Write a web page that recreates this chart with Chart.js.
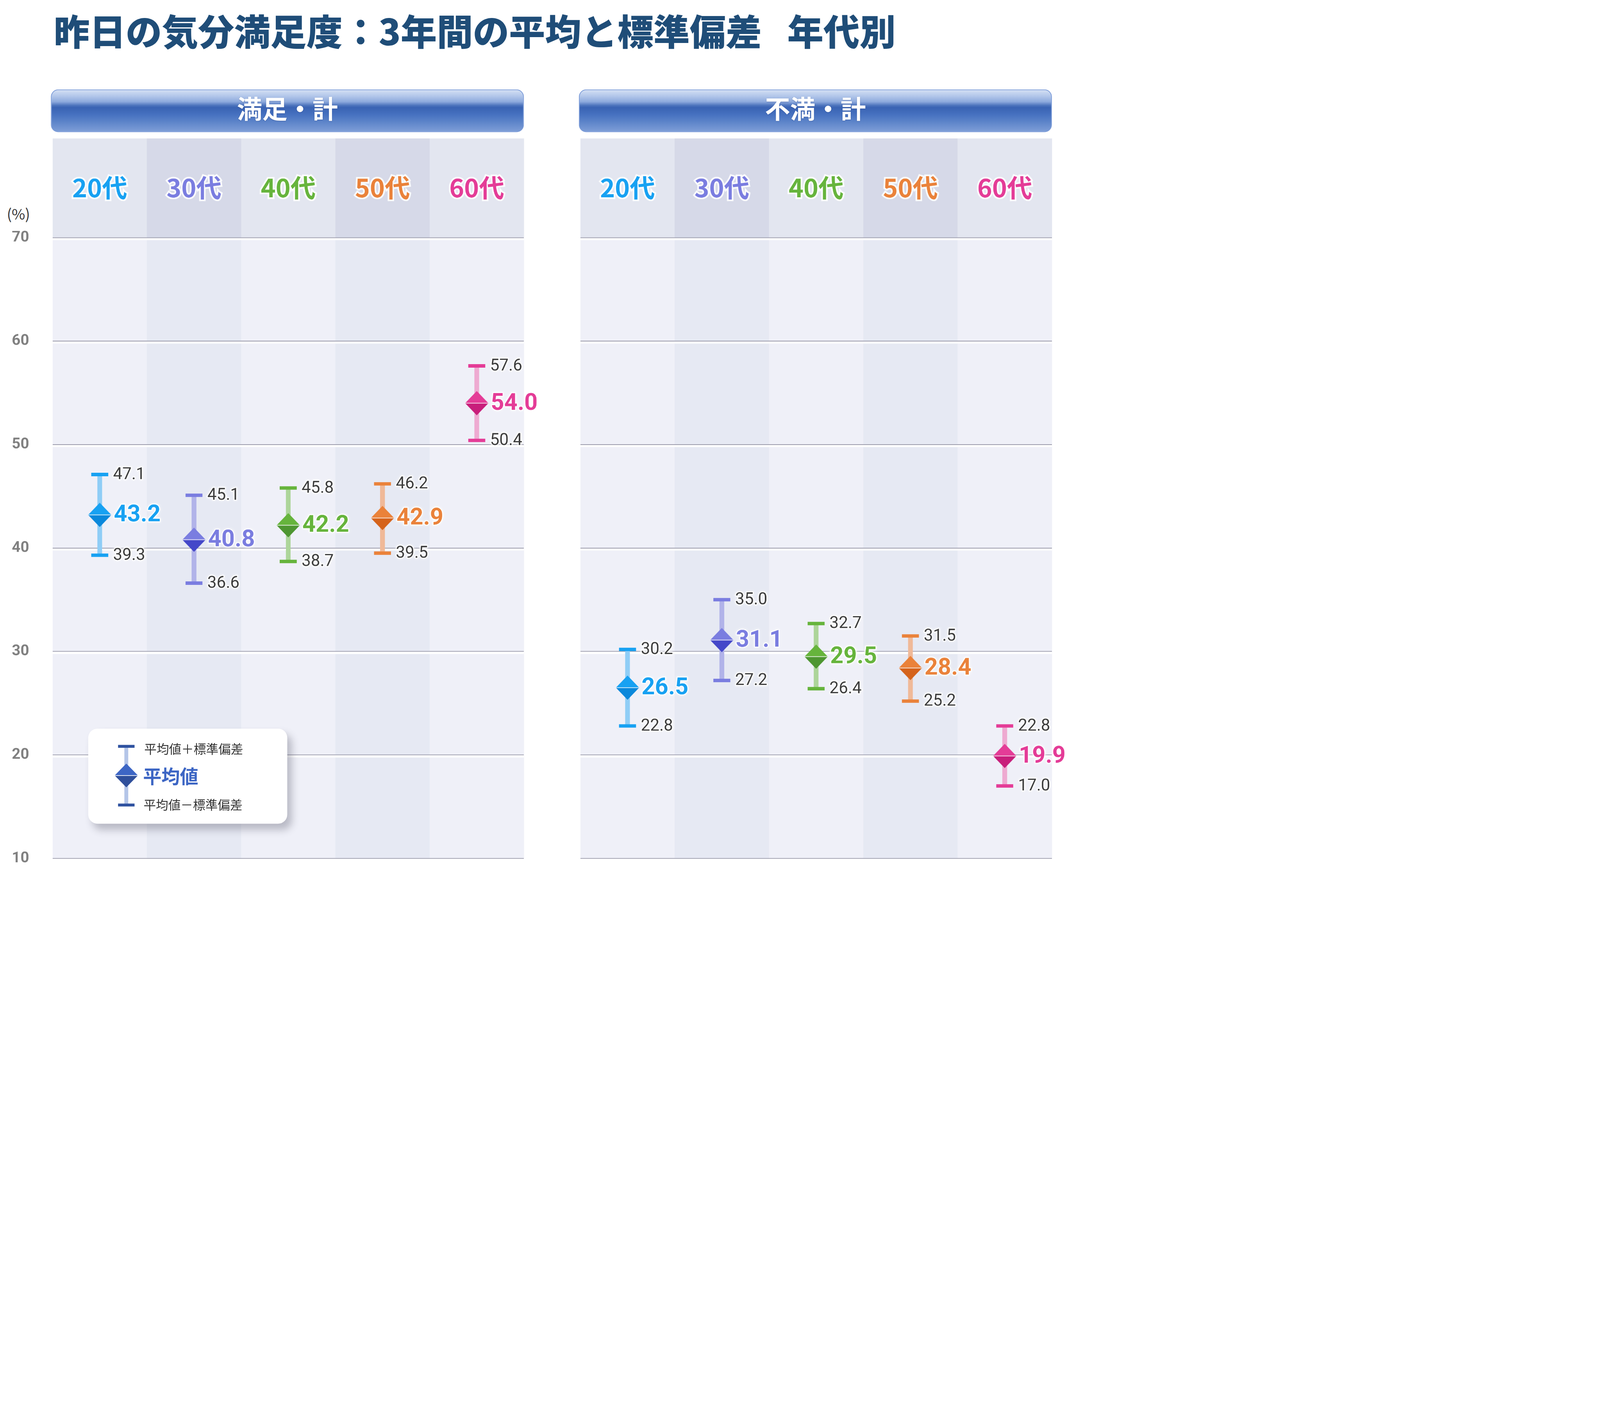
<!DOCTYPE html>
<html><head><meta charset="utf-8">
<script src="https://cdn.jsdelivr.net/npm/chart.js@4.4.1/dist/chart.umd.min.js"></script>
<style>
html,body{margin:0;padding:0;background:#fff;overflow:hidden;}
#wrap{position:relative;overflow:hidden;background:#fff;}
#stage{position:absolute;left:0;top:0;width:6600px;height:3637px;overflow:hidden;background:#fff;font-family:"Noto Sans CJK JP",sans-serif;transform-origin:0 0;}
.abs{position:absolute;}
#title{left:221px;top:48px;font-size:149px;font-weight:900;color:#1f4d78;white-space:nowrap;line-height:1;}
.hdr{top:369px;height:176px;width:1951px;border:3px solid #7b9bd8;border-radius:30px;box-sizing:border-box;padding-bottom:28px;
 background:linear-gradient(to bottom,#d2def3 0%,#b3c7ea 14%,#8eaadd 28%,#4d74bd 37%,#3a63b3 42%,#4570bf 58%,#5a82c8 75%,#7d9dd7 100%);
 color:#fff;font-weight:700;font-size:104px;display:flex;align-items:center;justify-content:center;line-height:1;text-shadow:0 2px 4px rgba(30,50,110,0.35);}
canvas{position:absolute;}
#pct{left:28px;top:846px;font-size:60px;color:#333;line-height:66px;}
#legend{left:364px;top:3005px;width:821px;height:392px;border-radius:38px;background:#fff;box-shadow:18px 24px 30px rgba(70,70,90,0.32);z-index:5;}
.lt{position:absolute;white-space:nowrap;}
</style>
</head>
<body>
<div id="wrap">
<div id="stage">
  <div id="title" class="abs">昨日の気分満足度：3年間の平均と標準偏差<span style="margin-left:105px">年代別</span></div>
  <div id="hdrL" class="abs hdr" style="left:210px;"></div>
  <div id="hdrR" class="abs hdr" style="left:2388px;"></div>
  <div id="pct" class="abs">(%)</div>
  <canvas id="cL" width="2300" height="3077" style="left:0px;top:560px;width:2300px;height:3077px;"></canvas>
  <canvas id="cR" width="2300" height="3077" style="left:2300px;top:560px;width:2300px;height:3077px;"></canvas>
  <div id="legend" class="abs">
    <div class="abs" style="left:149px;top:73px;width:16px;height:242px;background:#b4c5e8"></div>
    <div class="abs" style="left:123px;top:67px;width:68px;height:12px;background:#2f52a0"></div>
    <div class="abs" style="left:123px;top:309px;width:68px;height:12px;background:#2f52a0"></div>
    <div class="abs" style="left:109px;top:144px;width:96px;height:49px;background:#3d66c5;clip-path:polygon(50% 0,100% 100%,0 100%)"></div>
    <div class="abs" style="left:109px;top:193px;width:96px;height:49px;background:#2f4f9b;clip-path:polygon(0 0,100% 0,50% 100%)"></div>
    <div class="abs" style="left:109px;top:192px;width:96px;height:3px;background:rgba(255,255,255,0.85)"></div>
    <div class="lt" id="lg1" style="left:231px;top:51px;font-size:51px;line-height:60px;color:#333;"></div>
    <div class="lt" id="lg2" style="left:226px;top:148px;font-size:76px;line-height:90px;color:#3d66c4;font-weight:700;"></div>
    <div class="lt" id="lg3" style="left:228px;top:281px;font-size:51px;line-height:60px;color:#333;"></div>
  </div>
</div>
</div>
<script>
// ---- data ----
const categories = ['20代', '30代', '40代', '50代', '60代'];
const panelTitles = ['満足・計', '不満・計'];
const satisfiedMean  = [43.2, 40.8, 42.2, 42.9, 54.0];
const satisfiedUpper = [47.1, 45.1, 45.8, 46.2, 57.6];
const satisfiedLower = [39.3, 36.6, 38.7, 39.5, 50.4];
const dissatisfiedMean  = [26.5, 31.1, 29.5, 28.4, 19.9];
const dissatisfiedUpper = [30.2, 35.0, 32.7, 31.5, 22.8];
const dissatisfiedLower = [22.8, 27.2, 26.4, 25.2, 17.0];
const yMin = 10, yMax = 70, yStep = 10;
const legendLabels = ['平均値＋標準偏差', '平均値', '平均値－標準偏差'];

// ---- styles ----
const topColors    = ['#17a1f2', '#7a7de0', '#66b43c', '#ea823a', '#e43c97'];
const bottomColors = ['#0a88db', '#4447c9', '#4e9631', '#d5631b', '#c81e7b'];
const lineColors   = ['#8fcdf6', '#b1b3e9', '#add59a', '#f0b998', '#eeaad1'];
const bandColors = ['#e3e6f0', '#d6d9e8'];
const plotColors = ['#eff0f8', '#e6e9f3'];

// fit the 6600x3637 design into the actual viewport
const stage = document.getElementById('stage');
const wrap = document.getElementById('wrap');
const k = Math.min(window.innerWidth / 6600, window.innerHeight / 3637) || 1;
stage.style.transform = 'scale(' + k + ')';
wrap.style.width = (6600 * k) + 'px';
wrap.style.height = (3637 * k) + 'px';
const dpr = Math.max(1, (window.devicePixelRatio || 1) * k);

document.getElementById('hdrL').textContent = panelTitles[0];
document.getElementById('hdrR').textContent = panelTitles[1];
document.getElementById('lg1').textContent = legendLabels[0];
document.getElementById('lg2').textContent = legendLabels[1];
document.getElementById('lg3').textContent = legendLabels[2];

function makeDiamond(top, bottom) {
  const w = 96, h = 100;
  const c = document.createElement('canvas');
  c.width = w; c.height = h;
  const g = c.getContext('2d');
  g.fillStyle = top;
  g.beginPath(); g.moveTo(w/2, 0); g.lineTo(w, h/2); g.lineTo(0, h/2); g.closePath(); g.fill();
  g.fillStyle = bottom;
  g.beginPath(); g.moveTo(0, h/2); g.lineTo(w, h/2); g.lineTo(w/2, h); g.closePath(); g.fill();
  g.fillStyle = 'rgba(255,255,255,0.85)';
  g.fillRect(1, h/2 - 1.5, w - 2, 3);
  return c;
}
const diamonds = topColors.map((t, i) => makeDiamond(t, bottomColors[i]));

const bgPlugin = {
  id: 'bg',
  beforeDraw(chart) {
    const {ctx, chartArea: a, scales: {x, y}} = chart;
    const n = chart.data.labels.length;
    const w = (a.right - a.left) / n;
    ctx.save();
    for (let i = 0; i < n; i++) {
      const l = x.getPixelForValue(i) - w / 2;
      ctx.fillStyle = bandColors[i % 2];
      ctx.fillRect(l, a.top - 409, w + 0.5, 409);
      ctx.fillStyle = plotColors[i % 2];
      ctx.fillRect(l, a.top, w + 0.5, a.bottom - a.top);
    }
    ctx.fillStyle = '#ffffff';
    y.ticks.forEach(t => {
      if (t.value > y.min) {
        const py = y.getPixelForValue(t.value);
        ctx.fillRect(a.left, py + 1.5, a.right - a.left, 9);
      }
    });
    ctx.restore();
  }
};

function drawGlowText(ctx, text, x, y, font, color) {
  ctx.font = font;
  ctx.textAlign = 'left';
  ctx.textBaseline = 'middle';
  ctx.lineJoin = 'round';
  ctx.save();
  ctx.shadowColor = 'rgba(255,255,255,0.95)';
  ctx.shadowBlur = 14;
  ctx.strokeStyle = 'rgba(255,255,255,0.75)';
  ctx.lineWidth = 9;
  ctx.strokeText(text, x, y);
  ctx.restore();
  ctx.fillStyle = color;
  ctx.fillText(text, x, y);
}

const labelPlugin = {
  id: 'valueLabels',
  afterDatasetsDraw(chart) {
    const ctx = chart.ctx;
    const ds = chart.data.datasets;
    const hi = chart.getDatasetMeta(1).data;
    const lo = chart.getDatasetMeta(2).data;
    const mn = chart.getDatasetMeta(3).data;
    ctx.save();
    for (let i = 0; i < hi.length; i++) {
      drawGlowText(ctx, ds[1].data[i].toFixed(1), hi[i].x + 55, hi[i].y + 2, '68px Roboto', '#3c3c3c');
      drawGlowText(ctx, ds[2].data[i].toFixed(1), lo[i].x + 55, lo[i].y + 2, '68px Roboto', '#3c3c3c');
      drawGlowText(ctx, ds[3].data[i].toFixed(1), mn[i].x + 58, mn[i].y + 3, 'bold 96px Roboto', topColors[i]);
    }
    ctx.restore();
  }
};

function makeChart(id, means, uppers, lowers, leftW, rightPad, showY) {
  return new Chart(document.getElementById(id), {
    type: 'bar',
    data: {
      labels: categories,
      datasets: [
        { type: 'bar', data: lowers.map((l, i) => [l, uppers[i]]), backgroundColor: lineColors,
          barThickness: 19, grouped: false, borderWidth: 0, order: 4 },
        { type: 'line', data: uppers, showLine: false, pointStyle: 'line', pointRadius: 35,
          pointBorderWidth: 14, pointBorderColor: topColors, pointBackgroundColor: topColors, order: 3 },
        { type: 'line', data: lowers, showLine: false, pointStyle: 'line', pointRadius: 35,
          pointBorderWidth: 14, pointBorderColor: topColors, pointBackgroundColor: topColors, order: 2 },
        { type: 'line', data: means, showLine: false, pointStyle: diamonds, pointRadius: 48,
          pointBorderWidth: 0, order: 1 }
      ]
    },
    options: {
      responsive: false, animation: false, devicePixelRatio: dpr,
      layout: { padding: { left: 0, right: rightPad, top: 0, bottom: 97 } },
      plugins: { legend: { display: false }, tooltip: { enabled: false } },
      scales: {
        x: {
          position: 'top', offset: true,
          grid: { display: false, drawTicks: false }, border: { display: false },
          ticks: {
            color: c => topColors[c.index],
            font: { family: '"Noto Sans CJK JP"', size: 104, weight: 'bold' },
            padding: 143, textStrokeColor: 'rgba(255,255,255,0.85)', textStrokeWidth: 14
          },
          afterFit: s => { s.height = 420; s.paddingLeft = 0; s.paddingRight = 0; }
        },
        y: {
          min: yMin, max: yMax,
          ticks: { stepSize: yStep, display: showY, padding: 97, color: '#808080',
                   font: { family: 'Roboto', size: 62, weight: 'bold' } },
          grid: { color: '#9b9bab', lineWidth: 3, drawTicks: false },
          border: { display: false },
          afterFit: s => { s.width = leftW; s.paddingTop = 0; s.paddingBottom = 0; }
        }
      }
    },
    plugins: [bgPlugin, labelPlugin]
  });
}

makeChart('cL', satisfiedMean, satisfiedUpper, satisfiedLower, 217, 139, true);
makeChart('cR', dissatisfiedMean, dissatisfiedUpper, dissatisfiedLower, 94, 261, false);
</script>
</body></html>
